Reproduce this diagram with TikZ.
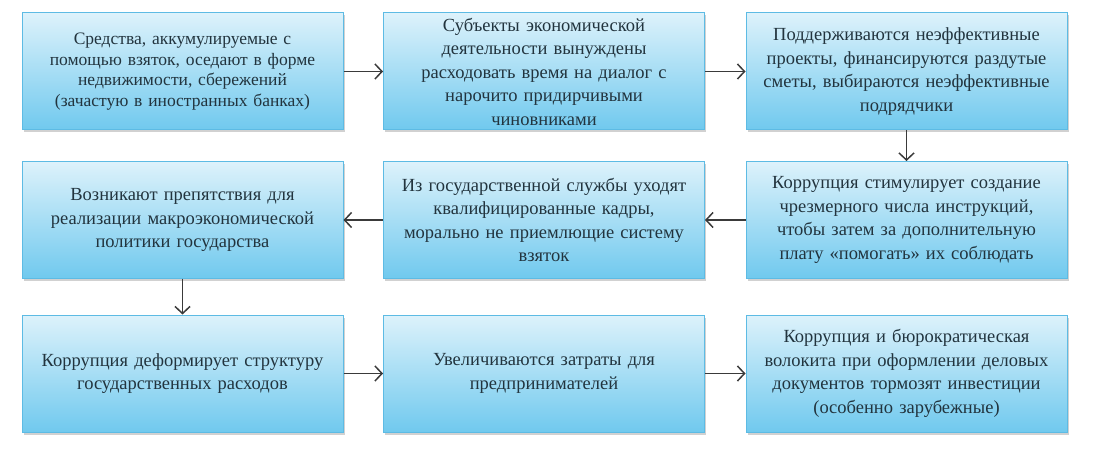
\documentclass[tikz,border=0pt]{standalone}
\usepackage{fontspec}
\setmainfont{Liberation Serif}
\usetikzlibrary{shadows,arrows.meta}
\definecolor{boxtop}{HTML}{DDF2FB}
\definecolor{boxbot}{HTML}{70C9EE}
\definecolor{boxline}{HTML}{5DBBE4}
\definecolor{txt}{HTML}{22343E}
\definecolor{arr}{HTML}{3A3A3A}
\tikzset{
  blk/.style={draw=boxline, line width=1pt, top color=boxtop, bottom color=boxbot,
    minimum width=321pt, minimum height=117pt, inner sep=0pt, align=center,
    text width=300pt, text=txt, font=\fontsize{18.5}{23.5}\selectfont,
    drop shadow={shadow xshift=1.5pt, shadow yshift=-2.5pt, opacity=0.3, fill=black!60}},
  small/.style={font=\fontsize{17.5}{20.5}\selectfont},
  conn/.style={draw=arr, line width=1.5pt, -{Straight Barb[length=7pt,width=15pt,line width=1.5pt]}}
}
\begin{document}
\begin{tikzpicture}[x=1pt,y=-1pt]
\useasboundingbox (0,0) rectangle (1093,449);
\node[blk,small] (b1) at (182.5,71.5) {Средства, аккумулируемые с\\помощью взяток, оседают в форме\\недвижимости, сбережений\\(зачастую в иностранных банках)};
\node[blk] (b2) at (544,71.5) {Субъекты экономической\\деятельности вынуждены\\расходовать время на диалог с\\нарочито придирчивыми\\чиновниками};
\node[blk] (b3) at (906.5,71.5) {Поддерживаются неэффективные\\проекты, финансируются раздутые\\сметы, выбираются неэффективные\\подрядчики};
\node[blk] (b4) at (182.5,220) {Возникают препятствия для\\реализации макроэкономической\\политики государства};
\node[blk] (b5) at (544,220) {Из государственной службы уходят\\квалифицированные кадры,\\морально не приемлющие систему\\взяток};
\node[blk] (b6) at (906.5,220) {Коррупция стимулирует создание\\чрезмерного числа инструкций,\\чтобы затем за дополнительную\\плату «помогать» их соблюдать};
\node[blk] (b7) at (182.5,373.5) {Коррупция деформирует структуру\\государственных расходов};
\node[blk] (b8) at (544,373.5) {Увеличиваются затраты для\\предпринимателей};
\node[blk] (b9) at (906.5,373.5) {Коррупция и бюрократическая\\волокита при оформлении деловых\\документов тормозят инвестиции\\(особенно зарубежные)};
\draw[conn] (b1) -- (b2);
\draw[conn] (b2) -- (b3);
\draw[conn] (b3) -- (b6);
\draw[conn] (b6) -- (b5);
\draw[conn] (b5) -- (b4);
\draw[conn] (b4) -- (b7);
\draw[conn] (b7) -- (b8);
\draw[conn] (b8) -- (b9);
\end{tikzpicture}
\end{document}
